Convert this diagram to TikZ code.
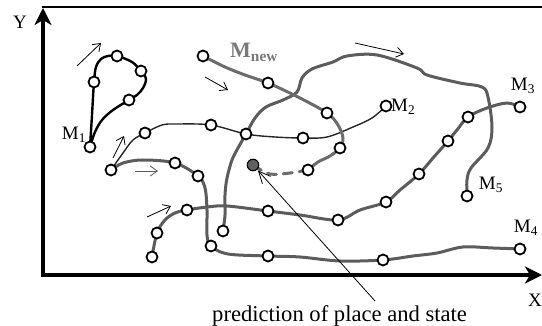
\documentclass[tikz,border=0pt]{standalone}
\usepackage{fontspec}
\setmainfont{Liberation Serif}
\usetikzlibrary{arrows.meta}
\pgfdeclarelayer{tracks}
\pgfsetlayers{tracks,main}
\definecolor{trackgray}{RGB}{92,92,92}
\definecolor{newgray}{RGB}{108,108,108}
\definecolor{labelgray}{RGB}{120,120,120}
\definecolor{dotgray}{RGB}{96,96,96}

\begin{document}
\begin{tikzpicture}[x=1pt,y=-1pt,
  stop/.style={circle, draw=black, fill=white, line width=1.8pt, inner sep=0pt, minimum size=11pt},
  predicted/.style={circle, draw=black, fill=dotgray, line width=1.1pt, inner sep=0pt, minimum size=11.5pt},
  track/.style={trackgray, line width=3pt, line cap=round, line join=round},
  newtrack/.style={newgray, line width=3pt, line cap=round, line join=round},
  boldtrack/.style={black, line width=2.4pt, line cap=round, line join=round},
  thintrack/.style={black!85, line width=1.4pt, line cap=round, line join=round},
  motion/.style={-{Straight Barb[length=7pt,width=10pt]}, line width=0.8pt},
  axis/.style={line width=4pt, -{Stealth[length=17pt,width=17pt,inset=5pt]}},
  lbl/.style={font=\fontsize{19}{22}\selectfont, inner sep=0pt},
  smoothpath/.style={smooth, tension=0.55}
]
\useasboundingbox (0,0) rectangle (542,326);

% frame and axes
\draw[line width=1.2pt] (42,7) -- (542,7);
\coordinate (origin) at (43,275);
\coordinate (ytip) at (43,8);
\coordinate (xtip) at (542,275);
\draw[axis] (origin) -- (ytip);
\draw[axis] ([xshift=-2pt]origin) -- (xtip);
\node[lbl] (ylab) at (20,22) {Y};
\node[lbl] (xlab) at (535,300) {X};

% stops of track M1
\node[stop] (m1s) at (90,147) {};
\node[stop] (m1b) at (94,82) {};
\node[stop] (m1c) at (117,56) {};
\node[stop] (m1d) at (141,71) {};
\node[stop] (m1e) at (129,100) {};

% shared start of M2 and the lower track
\node[stop] (n0) at (111,170) {};
% stops of M2
\node[stop] (m2a) at (145,133) {};
\node[stop] (m2b) at (211,125) {};
\node[stop] (x1) at (246,134) {};
\node[stop] (m2c) at (303,138) {};
\node[stop] (m2e) at (386,106) {};

% stops of track to M4
\node[stop] (a1) at (175,163) {};
\node[stop] (a2) at (198,176) {};
\node[stop] (a3) at (211,246) {};
\node[stop] (a4) at (268,256) {};
\node[stop] (a5) at (383,260) {};
\node[stop] (m4) at (520,249) {};

% stops of track to M3
\node[stop] (b0) at (152,257) {};
\node[stop] (b1) at (157,233) {};
\node[stop] (b2) at (187,210) {};
\node[stop] (b3) at (268,211) {};
\node[stop] (b4) at (338,220) {};
\node[stop] (b5) at (386,202) {};
\node[stop] (b6) at (419,174) {};
\node[stop] (b7) at (448,141) {};
\node[stop] (b8) at (468,117) {};
\node[stop] (m3) at (520,107) {};

% stops of track to M5
\node[stop] (c0) at (223,231) {};
\node[stop] (m5) at (467,196) {};

% stops of the new track
\node[stop] (n1) at (203,56) {};
\node[stop] (n2) at (268,83) {};
\node[stop] (n3) at (327,113) {};
\node[stop] (n4) at (340,148) {};
\node[stop] (n5) at (308,170) {};
\node[predicted] (dot) at (253,165) {};

\begin{pgfonlayer}{tracks}
  % M1 loop
  \draw[boldtrack] plot[smoothpath] coordinates {(m1s.center) (92,115) (m1b.center) (96,67) (101,59) (108,56) (m1c.center) (132,62) (m1d.center) (146,79) (143,88) (137,95) (m1e.center) (113,110) (102,120) (95,132) (m1s.center)};
  % M2
  \draw[thintrack] plot[smoothpath] coordinates {(n0.center) (123,153) (133,140) (m2a.center) (162,125) (177,124) (m2b.center) (x1.center) (275,137) (m2c.center) (327,137) (353,127) (372,118) (m2e.center)};
  % track to M4
  \draw[track] plot[smoothpath] coordinates {(n0.center) (123,163) (143,160) (a1.center) (a2.center) (205,188) (207,210) (207,235) (a3.center) (228,254) (a4.center) (300,257) (340,261) (a5.center) (413,256) (437,253) (463,247) (493,248) (m4.center)};
  % track to M3
  \draw[track] plot[smoothpath] coordinates {(b0.center) (b1.center) (165,220) (175,213) (b2.center) (207,207) (227,206) (b3.center) (300,215) (b4.center) (360,210) (b5.center) (400,190) (b6.center) (433,158) (b7.center) (457,130) (b8.center) (487,108) (507,103) (m3.center)};
  % track to M5
  \draw[track] plot[smoothpath] coordinates {(c0.center) (225,215) (225,195) (227,178) (232,160) (238,148) (x1.center) (255,118) (266,107) (283,100) (297,92) (302,78) (312,69) (333,62) (347,56) (377,55) (417,68) (427,75) (460,83) (482,87) (488,97) (492,127) (488,148) (471,168) (467,180) (m5.center)};
  % new track and its predicted continuation
  \draw[newtrack] plot[smoothpath] coordinates {(n1.center) (225,67) (245,75) (n2.center) (298,97) (n3.center) (338,125) (343,138) (n4.center) (330,156) (318,162) (n5.center)};
  \draw[newtrack, dash pattern=on 9pt off 7pt] plot[smoothpath] coordinates {(n5.center) (290,173) (270,174) (dot.center)};
\end{pgfonlayer}

% labels
\node[lbl] (l1) at (74,135) {M\textsubscript{1}};
\node[lbl, anchor=west] (l2) at (391,107) {M\textsubscript{2}};
\node[lbl] (l3) at (523,86) {M\textsubscript{3}};
\node[lbl] (l4) at (526,228) {M\textsubscript{4}};
\node[lbl] (l5) at (491,185) {M\textsubscript{5}};
\node[inner sep=0pt, anchor=base west, text=labelgray, font=\fontsize{22}{26}\selectfont\bfseries] (lnew) at (230,58) {M\textsubscript{new}};

% motion arrows
\coordinate (p1s) at (77,66);   \coordinate (p1e) at (101,43);
\coordinate (p2s) at (113,158); \coordinate (p2e) at (124,136);
\coordinate (p3s) at (135,171); \coordinate (p3e) at (158,171);
\coordinate (p4s) at (147,217); \coordinate (p4e) at (171,206);
\coordinate (p5s) at (205,77);  \coordinate (p5e) at (228,90);
\coordinate (p6s) at (355,43);  \coordinate (p6e) at (404,54);
\draw[motion] (p1s) -- (p1e);
\draw[motion] (p2s) -- (p2e);
\draw[motion, trackgray] (p3s) -- (p3e);
\draw[motion] (p4s) -- (p4e);
\draw[motion] (p5s) -- (p5e);
\draw[motion] (p6s) -- (p6e);

% caption and its pointer
\node[inner sep=0pt, anchor=base west, font=\fontsize{22.6}{26}\selectfont] (caption) at (212,321.5) {prediction of place and state};
\coordinate (ptail) at (375,301);
\draw[line width=0.8pt, -{Straight Barb[length=12pt,width=11pt]}, shorten >=1pt] (ptail) -- (dot);
\end{tikzpicture}
\end{document}
